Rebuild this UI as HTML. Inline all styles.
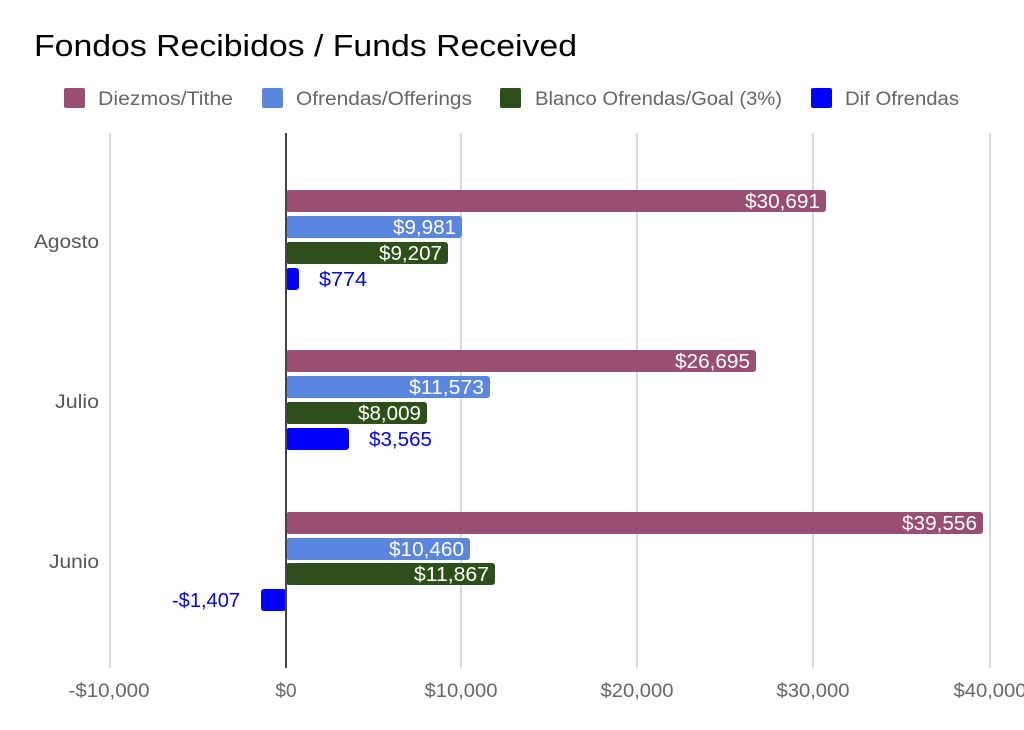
<!DOCTYPE html>
<html><head><meta charset="utf-8"><style>
html,body{margin:0;padding:0;background:#fff;}
svg{display:block;font-family:"Liberation Sans",Arial,sans-serif;}
</style></head><body>
<svg width="1024" height="730" viewBox="0 0 1024 730" xmlns="http://www.w3.org/2000/svg">
<rect width="1024" height="730" fill="#fff"/>
<text x="34" y="56" font-size="31" fill="#000" textLength="543" lengthAdjust="spacingAndGlyphs">Fondos Recibidos / Funds Received</text>
<g font-size="19" fill="#666">
<rect x="64" y="88" width="21" height="20" rx="2" fill="#994f73"/><text x="98" y="105" textLength="135" lengthAdjust="spacingAndGlyphs">Diezmos/Tithe</text>
<rect x="262" y="88" width="21" height="20" rx="2" fill="#5a86e0"/><text x="296" y="105" textLength="176" lengthAdjust="spacingAndGlyphs">Ofrendas/Offerings</text>
<rect x="500" y="88" width="21" height="20" rx="2" fill="#2f4f1a"/><text x="535" y="105" textLength="247" lengthAdjust="spacingAndGlyphs">Blanco Ofrendas/Goal (3%)</text>
<rect x="811" y="88" width="21" height="20" rx="2" fill="#0000ff"/><text x="845" y="105" textLength="114" lengthAdjust="spacingAndGlyphs">Dif Ofrendas</text>
</g>
<g stroke="#ccc" stroke-width="1.5">
<line x1="110" y1="133" x2="110" y2="668"/>
<line x1="461" y1="133" x2="461" y2="668"/>
<line x1="637" y1="133" x2="637" y2="668"/>
<line x1="813" y1="133" x2="813" y2="668"/>
<line x1="990" y1="133" x2="990" y2="668"/>
</g>
<g font-size="19" fill="#666" text-anchor="middle">
<text x="109" y="697" textLength="81" lengthAdjust="spacingAndGlyphs">-$10,000</text>
<text x="286" y="697">$0</text>
<text x="461" y="697" textLength="73" lengthAdjust="spacingAndGlyphs">$10,000</text>
<text x="637" y="697" textLength="73" lengthAdjust="spacingAndGlyphs">$20,000</text>
<text x="813" y="697" textLength="73" lengthAdjust="spacingAndGlyphs">$30,000</text>
<text x="990" y="697" textLength="73" lengthAdjust="spacingAndGlyphs">$40,000</text>
</g>
<g font-size="19" fill="#555" text-anchor="end">
<text x="99" y="248" textLength="65" lengthAdjust="spacingAndGlyphs">Agosto</text>
<text x="99" y="408" textLength="44" lengthAdjust="spacingAndGlyphs">Julio</text>
<text x="99" y="568" textLength="50" lengthAdjust="spacingAndGlyphs">Junio</text>
</g>
<rect x="286" y="190" width="540" height="22" rx="3" fill="#994f73"/>
<rect x="286" y="216" width="176" height="22" rx="3" fill="#5a86e0"/>
<rect x="286" y="242" width="162" height="22" rx="3" fill="#2f4f1a"/>
<rect x="286" y="268" width="13" height="22" rx="3" fill="#0000ff"/>
<rect x="286" y="350" width="470" height="22" rx="3" fill="#994f73"/>
<rect x="286" y="376" width="204" height="22" rx="3" fill="#5a86e0"/>
<rect x="286" y="402" width="141" height="22" rx="3" fill="#2f4f1a"/>
<rect x="286" y="428" width="63" height="22" rx="3" fill="#0000ff"/>
<rect x="286" y="512" width="697" height="22" rx="3" fill="#994f73"/>
<rect x="286" y="538" width="184" height="22" rx="3" fill="#5a86e0"/>
<rect x="286" y="563" width="209" height="22" rx="3" fill="#2f4f1a"/>
<rect x="261" y="589" width="25" height="22" rx="3" fill="#0000ff"/>
<line x1="286" y1="133" x2="286" y2="668" stroke="#444" stroke-width="2"/>
<g font-size="20" fill="#fff" text-anchor="end">
<text x="820" y="208" textLength="75" lengthAdjust="spacingAndGlyphs">$30,691</text>
<text x="456" y="234" textLength="63" lengthAdjust="spacingAndGlyphs">$9,981</text>
<text x="442" y="260" textLength="63" lengthAdjust="spacingAndGlyphs">$9,207</text>
<text x="750" y="368" textLength="75" lengthAdjust="spacingAndGlyphs">$26,695</text>
<text x="484" y="394" textLength="75" lengthAdjust="spacingAndGlyphs">$11,573</text>
<text x="421" y="420" textLength="63" lengthAdjust="spacingAndGlyphs">$8,009</text>
<text x="977" y="530" textLength="75" lengthAdjust="spacingAndGlyphs">$39,556</text>
<text x="464" y="556" textLength="75" lengthAdjust="spacingAndGlyphs">$10,460</text>
<text x="489" y="581" textLength="75" lengthAdjust="spacingAndGlyphs">$11,867</text>
</g>
<g font-size="20" fill="#0000ff">
<text x="319" y="286" textLength="48" lengthAdjust="spacingAndGlyphs">$774</text>
<text x="369" y="446" textLength="63" lengthAdjust="spacingAndGlyphs">$3,565</text>
<text x="240" y="607" text-anchor="end" textLength="68" lengthAdjust="spacingAndGlyphs">-$1,407</text>
</g>
</svg>
</body></html>
